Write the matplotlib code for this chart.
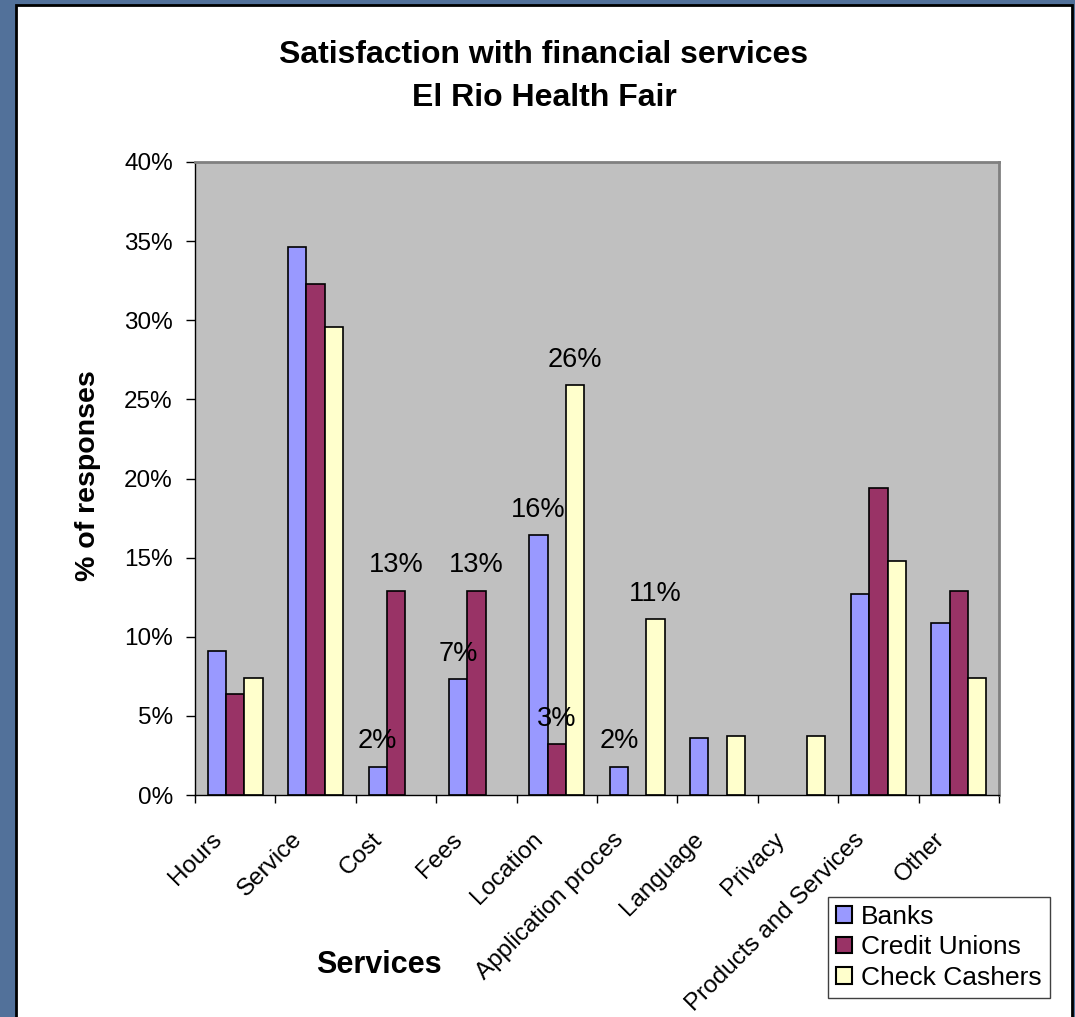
import numpy as np
import matplotlib.pyplot as plt
from matplotlib.patches import Rectangle, Patch
from matplotlib.transforms import ScaledTranslation

plt.rcParams['font.family'] = ['Liberation Sans', 'DejaVu Sans']

categories = ['Hours', 'Service', 'Cost', 'Fees', 'Location', 'Application proces',
              'Language', 'Privacy', 'Products and Services', 'Other']
series_names = ['Banks', 'Credit Unions', 'Check Cashers']
banks = [9.1, 34.6, 1.8, 7.3, 16.4, 1.8, 3.6, 0.0, 12.7, 10.9]
credit_unions = [6.4, 32.3, 12.9, 12.9, 3.2, 0.0, 0.0, 0.0, 19.4, 12.9]
check_cashers = [7.4, 29.6, 0.0, 0.0, 25.9, 11.1, 3.7, 3.7, 14.8, 7.4]
colors = ['#9999FF', '#993366', '#FFFFCC']

# which bars get a value label: (series index, category index)
labelled = [(0, 2), (1, 2), (0, 3), (1, 3), (0, 4), (1, 4), (2, 4), (0, 5), (2, 5)]

W, H = 1075, 1017
fig = plt.figure(figsize=(W / 100, H / 100), dpi=100)
fig.patch.set_facecolor('#52719A')

# white slide panel behind everything
panel = Rectangle((16 / W, -0.05), (1072 - 16) / W, 1.05 - 5 / H,
                  transform=fig.transFigure, facecolor='white',
                  edgecolor='black', linewidth=2, zorder=-10)
fig.patches.append(panel)

ax = fig.add_axes([195 / W, 1 - 795 / H, (999 - 195) / W, (795 - 162) / H])
ax.set_facecolor('#C0C0C0')

x = np.arange(len(categories))
bw = 0.228
all_series = [banks, credit_unions, check_cashers]
for i, vals in enumerate(all_series):
    # empty bars get no outline so nothing shows on the axis
    lws = [1.2 if v > 0 else 0 for v in vals]
    ax.bar(x + (i - 1) * bw, vals, bw, color=colors[i],
           edgecolor='black', linewidth=lws, label=series_names[i], zorder=2)

for s, c in labelled:
    v = all_series[s][c]
    ax.annotate(f'{v:.0f}%', (x[c] + (s - 1) * bw, v), xytext=(0, 9),
                textcoords='offset points', ha='center', va='bottom',
                fontsize=19.5, zorder=3)

ax.set_xlim(-0.5, len(categories) - 0.5)
ax.set_ylim(0, 40)
ax.set_yticks(np.arange(0, 41, 5))
ax.set_yticklabels([f'{t}%' for t in range(0, 41, 5)], fontsize=17.5)
ax.tick_params(axis='y', direction='out', length=6.5, width=1, pad=9.5)

ax.set_xticks(np.arange(-0.5, len(categories), 1))
ax.set_xticklabels([])
ax.tick_params(axis='x', which='major', direction='out', length=6, width=1)
ax.set_xticks(x, minor=True)
ax.set_xticklabels(categories, minor=True, rotation=45, ha='right', va='top',
                   rotation_mode='anchor', fontsize=17.5)
ax.tick_params(axis='x', which='minor', length=0, pad=24)
shift = ScaledTranslation(-25 / 100, 0, fig.dpi_scale_trans)
for lab in ax.get_xticklabels(minor=True):
    lab.set_transform(lab.get_transform() + shift)

for side in ['left', 'bottom']:
    ax.spines[side].set_color('black')
    ax.spines[side].set_linewidth(1)
for side in ['top', 'right']:
    ax.spines[side].set_color('#808080')
    ax.spines[side].set_linewidth(2)

fig.text(544 / W, 1 - 55 / H, 'Satisfaction with financial services',
         ha='center', va='center', fontsize=23, fontweight='bold')
fig.text(544 / W, 1 - 98 / H, 'El Rio Health Fair',
         ha='center', va='center', fontsize=23, fontweight='bold')
fig.text(88 / W, 1 - 476 / H, '% of responses', rotation=90,
         ha='center', va='center', fontsize=20.5, fontweight='bold')
fig.text(379 / W, 1 - 965 / H, 'Services',
         ha='center', va='center', fontsize=22, fontweight='bold')

handles = [Patch(facecolor=colors[i], edgecolor='black', linewidth=1.5)
           for i in range(3)]
leg = fig.legend(handles, series_names, loc='upper left',
                 bbox_to_anchor=(828 / W, 1 - 897 / H), fontsize=19,
                 frameon=True, fancybox=False, framealpha=1,
                 handlelength=0.6, handleheight=0.6, handletextpad=0.35,
                 labelspacing=0.24, borderpad=0.3, borderaxespad=0)
leg.get_frame().set_edgecolor('#404040')
leg.get_frame().set_linewidth(1)

fig.savefig('out.png', dpi=100, facecolor=fig.get_facecolor())
